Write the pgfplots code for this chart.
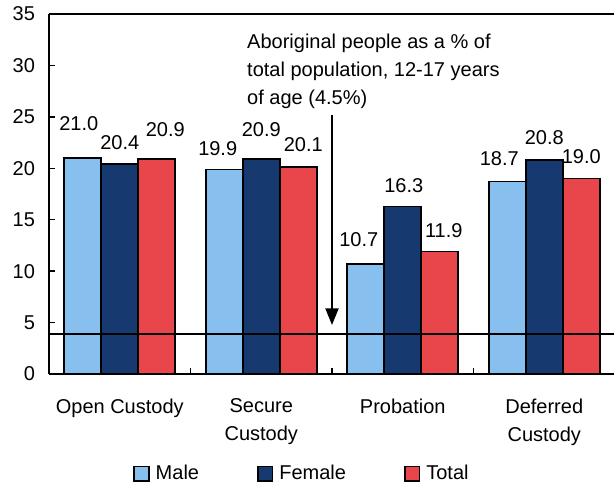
\documentclass[border=0pt]{standalone}
\usepackage{fontspec}
\setmainfont{Liberation Sans}
\usepackage{pgfplots}
\pgfplotsset{compat=1.18}
\usepackage{pgfplotstable}
\usetikzlibrary{arrows.meta}

\definecolor{cmale}{RGB}{135,192,238}
\definecolor{cfemale}{RGB}{22,58,112}
\definecolor{ctotal}{RGB}{232,70,74}

% x = category, y = value, dx/dy = label offset (pt, incl. bar shift)
\pgfplotstableread{
x y dx dy
0 21.0 -30.75 25.5
1 19.9 -32.65 15.75
2 10.7 -33 18
3 18.7 -33.75 17.25
}\tblMale
\pgfplotstableread{
x y dx dy
0 20.4 0 16.5
1 20.9 0 21.75
2 16.3 0.75 15.75
3 20.8 0 16.5
}\tblFemale
\pgfplotstableread{
x y dx dy
0 20.9 34.15 21.75
1 20.1 31.5 17.25
2 11.9 30.75 15.75
3 19.0 27.75 16.5
}\tblTotal

\pgfplotsset{
  mybar/.style={ybar, bar width=27.75pt, draw=black, line width=1.2pt, fill=#1,
    nodes near coords={\pgfmathprintnumber[fixed,fixed zerofill,precision=1]{\pgfplotspointmeta}},
    visualization depends on={\thisrow{dx}\as\dx},
    visualization depends on={\thisrow{dy}\as\dy},
    every node near coord/.append style={anchor=center, xshift=\dx pt, yshift=\dy pt, text=black},
  }
}

\begin{document}
\begin{tikzpicture}[font=\fontsize{15}{21}\selectfont]
\begin{axis}[
  scale only axis, width=424.5pt, height=270pt,
  xmin=-0.5, xmax=3.5, ymin=0, ymax=35,
  axis lines=left, axis line style={-, line width=1.6pt},
  clip=false,
  /pgf/number format/assume math mode=true,
  tick align=inside, major tick length=4.5pt,
  tick style={black, line width=1.1pt},
  ytick={0,5,...,35},
  yticklabel style={xshift=-7pt},
  xtick={0.5,1.5,2.5}, xticklabels={},
  extra x ticks={0,1,2,3},
  extra x tick labels={Open Custody,{Secure\\Custody},Probation,{Deferred\\Custody}},
  extra x tick style={major tick length=0pt, tick style={draw=none},
    xticklabel style={align=center, yshift=-15pt}},
  legend style={draw=none, fill=none, at={(0.447,-0.277)}, anchor=center,
    legend columns=3, nodes={inner sep=1.5pt},
    /tikz/every even column/.append style={column sep=42pt}},
  legend cell align=left,
  legend image code/.code={\draw[#1, line width=1.2pt, draw=black] (0pt,-5.5pt) rectangle (11pt,5.5pt); \path (14pt,0pt);},
]
\addplot[mybar=cmale, bar shift=-27.75pt] table[x=x,y=y] {\tblMale};
\addlegendentry{Male}
\addplot[mybar=cfemale, bar shift=0pt] table[x=x,y=y] {\tblFemale};
\addlegendentry{Female}
\addplot[mybar=ctotal, bar shift=27.75pt] table[x=x,y=y] {\tblTotal};
\addlegendentry{Total}
\addplot[black, line width=1.2pt, forget plot] coordinates {(-0.5,3.9) (3.5,3.9)};
\draw[line width=1.6pt] (rel axis cs:0,1) -- (rel axis cs:1,1);
\draw[-{Triangle[width=9.75pt,length=12.5pt]}, line width=1.5pt] (axis cs:1.5,25.2) -- (axis cs:1.5,4.76);
\node[anchor=north west, align=left, inner sep=0pt] at (axis cs:0.899,33.1)
  {Aboriginal people as a \% of\\total population, 12-17 years\\of age (4.5\%)};
\end{axis}
\pgfresetboundingbox
\path[use as bounding box] (-36.75pt,-83.25pt) rectangle (423.75pt,280.5pt);
\end{tikzpicture}
\end{document}
